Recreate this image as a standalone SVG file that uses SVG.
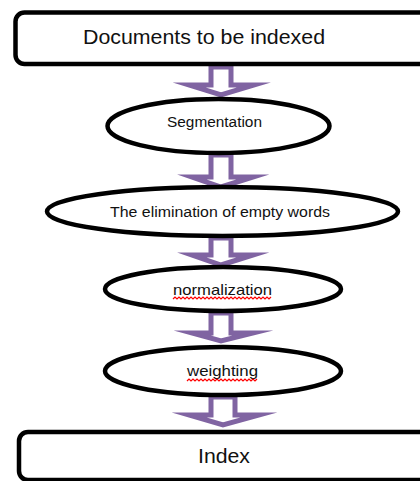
<svg xmlns="http://www.w3.org/2000/svg" width="420" height="481" viewBox="0 0 420 481">
<style>
.box{fill:#fff;stroke:#000;stroke-width:4.5}
.ell{fill:#fff;stroke:#000;stroke-width:4.5}
.arr{fill:#fff;stroke:#8064A2;stroke-width:5;stroke-linejoin:miter;stroke-miterlimit:10}
.t{font-family:"Liberation Sans",Arial,sans-serif;fill:#111;text-anchor:start}
.sq{fill:none;stroke:#f00;stroke-width:1.2}
</style>
<rect width="420" height="481" fill="#fff"/>
<g id="connectors">
<path class="arr" d="M211,67 V85 H189 L221,95 L254,85 H231 V67 Z"/>
<path class="arr" d="M211,155 V177 H192 L221,187 L253,177 H231 V155 Z"/>
<path class="arr" d="M211,238 V255 H192 L221,265 L253,255 H231 V238 Z"/>
<path class="arr" d="M211,313 V333 H192 L221,341 L253,333 H231 V313 Z"/>
<path class="arr" d="M211,397 V415 H189 L223,425 L259,415 H235 V397 Z"/>
</g>
<g id="n-docs">
<rect class="box" x="15.5" y="12.5" width="450" height="51.5" rx="9"/>
<text class="t" x="83" y="44" font-size="20" textLength="242" lengthAdjust="spacingAndGlyphs">Documents to be indexed</text>
</g>
<g id="n-seg">
<ellipse class="ell" cx="218.5" cy="126" rx="111" ry="27"/>
<text class="t" x="167" y="127" font-size="14" textLength="95" lengthAdjust="spacingAndGlyphs">Segmentation</text>
</g>
<g id="n-elim">
<ellipse class="ell" cx="222.5" cy="211.5" rx="175.5" ry="24.5"/>
<text class="t" x="110" y="217" font-size="14" textLength="220" lengthAdjust="spacingAndGlyphs">The elimination of empty words</text>
</g>
<g id="n-norm">
<ellipse class="ell" cx="223" cy="289" rx="118" ry="22"/>
<text class="t" x="173" y="295" font-size="15" textLength="99" lengthAdjust="spacingAndGlyphs">normalization</text>
<path class="sq" d="M173,299 l2,-2 l2,2 l2,-2 l2,2 l2,-2 l2,2 l2,-2 l2,2 l2,-2 l2,2 l2,-2 l2,2 l2,-2 l2,2 l2,-2 l2,2 l2,-2 l2,2 l2,-2 l2,2 l2,-2 l2,2 l2,-2 l2,2 l2,-2 l2,2 l2,-2 l2,2 l2,-2 l2,2 l2,-2 l2,2 l2,-2 l2,2 l2,-2 l2,2 l2,-2 l2,2 l2,-2 l2,2 l2,-2 l2,2 l2,-2 l2,2 l2,-2 l2,2 l2,-2 l2,2 l2,-2"/>
</g>
<g id="n-weight">
<ellipse class="ell" cx="223" cy="371" rx="118" ry="24"/>
<text class="t" x="187" y="376" font-size="15" textLength="71" lengthAdjust="spacingAndGlyphs">weighting</text>
<path class="sq" d="M187,381 l2,-2 l2,2 l2,-2 l2,2 l2,-2 l2,2 l2,-2 l2,2 l2,-2 l2,2 l2,-2 l2,2 l2,-2 l2,2 l2,-2 l2,2 l2,-2 l2,2 l2,-2 l2,2 l2,-2 l2,2 l2,-2 l2,2 l2,-2 l2,2 l2,-2 l2,2 l2,-2 l2,2 l2,-2 l2,2 l2,-2 l2,2 l2,-2"/>
</g>
<g id="n-index">
<rect class="box" x="19" y="432" width="450" height="48" rx="9"/>
<text class="t" x="198" y="463" font-size="20" textLength="52" lengthAdjust="spacingAndGlyphs">Index</text>
</g>
</svg>
